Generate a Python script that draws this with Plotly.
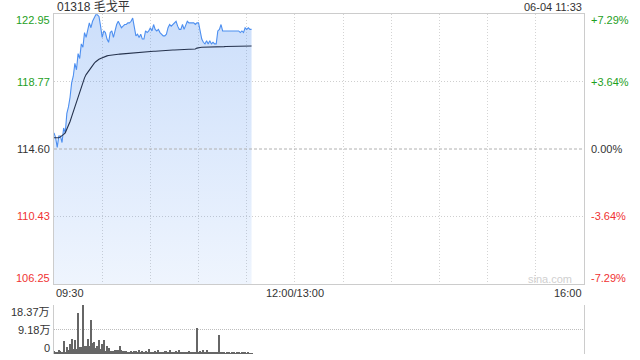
import plotly.graph_objects as go

# ---- data ----
title_text = "01318 毛戈平"
date_text = "06-04 11:33"
prev_close = 114.60
price_ticks = [122.95, 118.77, 114.60, 110.43, 106.25]
pct_ticks = ["+7.29%", "+3.64%", "0.00%", "-3.64%", "-7.29%"]
time_tick_pos = [0, 150, 330]
time_tick_text = ["09:30", "12:00/13:00", "16:00"]
vol_ticks = [18.37, 9.18, 0]
vol_tick_text = ["18.37万", "9.18万", "0"]

price = [
    115.6, 115.3, 114.7, 115.4, 115.4, 115.0, 115.9, 115.6, 116.8, 117.2,
    117.8, 118.7, 119.1, 119.9, 119.5, 120.5, 120.2, 121.1, 120.9, 121.8,
    121.5, 122.0, 122.4, 122.1, 122.5, 122.7, 122.9, 122.9, 122.8, 122.2,
    121.5, 121.9, 121.8, 121.4, 121.2, 121.8, 121.9, 121.5, 121.9, 122.3,
    122.5, 122.3, 122.1, 122.2, 122.3, 122.3, 122.4, 122.4, 122.5, 122.7,
    122.2, 121.6, 121.7, 121.5, 121.7, 121.4, 121.4, 121.9, 121.8, 121.9,
    122.1, 121.9, 122.3, 122.0, 121.9, 122.0, 121.8, 121.7, 121.6, 121.6,
    121.7, 122.1, 122.3, 122.2, 122.3, 122.4, 122.5, 122.2, 122.0, 122.0,
    122.3, 122.0, 122.3, 122.5, 122.4, 122.4, 122.4, 122.4, 122.3, 122.4,
    122.4, 121.9, 121.4, 121.2, 121.1, 121.3, 121.1, 121.3, 121.1, 121.2,
    121.1, 121.1, 121.9, 122.0, 122.3, 121.9, 121.9, 121.9, 121.9, 121.9,
    121.9, 121.9, 121.9, 121.9, 121.9, 121.9, 121.8, 121.9, 121.8, 122.1,
    122.0, 122.1, 122.0, 122.0,
]

avg_price = [
    115.30, 115.30, 115.30, 115.30, 115.35, 115.40, 115.50, 115.60, 115.80, 116.00,
    116.30, 116.60, 116.90, 117.30, 117.60, 117.90, 118.20, 118.50, 118.80, 119.00,
    119.20, 119.35, 119.50, 119.65, 119.80, 119.90, 120.00, 120.10, 120.15, 120.20,
    120.25, 120.30, 120.33, 120.36, 120.38, 120.40, 120.41, 120.42, 120.43, 120.45,
    120.46, 120.47, 120.48, 120.49, 120.50, 120.51, 120.52, 120.53, 120.54, 120.55,
    120.56, 120.57, 120.57, 120.58, 120.59, 120.60, 120.60, 120.61, 120.62, 120.63,
    120.64, 120.64, 120.65, 120.65, 120.66, 120.66, 120.67, 120.68, 120.68, 120.69,
    120.70, 120.70, 120.71, 120.71, 120.72, 120.72, 120.73, 120.73, 120.74, 120.74,
    120.75, 120.75, 120.76, 120.76, 120.77, 120.77, 120.77, 120.78, 120.78, 120.84,
    120.88, 120.88, 120.89, 120.89, 120.89, 120.90, 120.90, 120.90, 120.91, 120.91,
    120.92, 120.92, 120.92, 120.93, 120.93, 120.93, 120.93, 120.94, 120.94, 120.94,
    120.94, 120.94, 120.95, 120.95, 120.95, 120.95, 120.95, 120.96, 120.96, 120.96,
    120.96, 120.97, 120.97, 120.97,
]

volume = [  # 万 shares
    1.0, 0.5, 0.4, 1.5, 1.0, 0.8, 4.9, 0.6, 2.6, 1.6,
    3.9, 5.8, 1.8, 5.1, 2.0, 15.4, 2.7, 2.8, 18.37, 3.0,
    2.9, 5.8, 3.0, 12.7, 4.2, 4.5, 2.2, 3.0, 5.1, 1.8,
    3.9, 5.4, 1.2, 3.0, 2.4, 1.2, 1.0, 1.2, 1.5, 1.5,
    1.4, 3.0, 1.5, 1.2, 1.0, 1.2, 0.8, 0.5, 1.1, 0.9,
    1.2, 1.1, 0.8, 1.5, 0.9, 1.0, 0.6, 1.2, 0.5, 1.7,
    0.5, 0.7, 0.4, 1.1, 0.6, 1.5, 0.8, 0.9, 0.5, 1.0,
    1.1, 0.6, 1.5, 0.7, 0.9, 0.4, 1.0, 0.6, 1.5, 0.8,
    0.5, 0.9, 0.6, 0.4, 1.0, 0.7, 0.5, 0.4, 0.6, 9.6,
    0.8, 1.2, 0.5, 1.5, 0.6, 1.5, 0.8, 0.9, 0.5, 0.4,
    0.4, 0.6, 0.8, 7.1, 0.5, 0.4, 0.5, 0.3, 0.4, 0.5,
    0.3, 0.4, 0.5, 0.3, 0.6, 0.4, 0.3, 0.8, 0.4, 0.5,
    0.3, 0.4, 0.3, 0.2,
]

minutes = list(range(len(price)))

GREEN = "#1ea01e"
RED = "#f03232"
DARK = "#333333"
FONT = "Arial, Liberation Sans, Noto Sans CJK SC, sans-serif"
label_colors = [GREEN, GREEN, DARK, RED, RED]

fig = go.Figure()

# baseline for fill
fig.add_trace(go.Scatter(x=[minutes[0], minutes[-1]], y=[price_ticks[-1], price_ticks[-1]],
                         mode="lines", line=dict(width=0), hoverinfo="skip",
                         showlegend=False, xaxis="x", yaxis="y"))
fig.add_trace(go.Scatter(x=minutes, y=price, mode="lines",
                         line=dict(color="#4d8ff0", width=1.1),
                         fill="tonexty",
                         fillgradient=dict(type="vertical", start=price_ticks[-1], stop=price_ticks[0],
                                           colorscale=[[0, "rgba(74,140,240,0.09)"],
                                                       [1, "rgba(74,140,240,0.28)"]]),
                         hoverinfo="skip", showlegend=False, xaxis="x", yaxis="y"))
fig.add_trace(go.Scatter(x=minutes, y=avg_price, mode="lines",
                         line=dict(color="#25324d", width=1.1),
                         hoverinfo="skip", showlegend=False, xaxis="x", yaxis="y"))
fig.add_trace(go.Bar(x=minutes, y=volume, width=0.62,
                     marker=dict(color="#666666", line=dict(width=0)),
                     hoverinfo="skip", showlegend=False, xaxis="x2", yaxis="y2"))

XDOM = [54 / 640, 584 / 640]
fig.update_layout(
    width=640, height=360,
    margin=dict(l=0, r=0, t=0, b=0),
    paper_bgcolor="white", plot_bgcolor="white",
    font=dict(family=FONT, size=11, color=DARK),
    xaxis=dict(domain=XDOM, range=[0, 330], anchor="y",
               showgrid=True, tickvals=list(range(0, 331, 30)), gridcolor="#d4d4d4",
               griddash="1px,2px", gridwidth=1, showticklabels=False, ticks="",
               showline=True, mirror=True, linecolor="#cccccc", linewidth=1, zeroline=False),
    yaxis=dict(domain=[1 - 284 / 360, 1 - 14 / 360], range=[price_ticks[-1], price_ticks[0]],
               anchor="x", showgrid=True, tickvals=[price_ticks[1], price_ticks[3]],
               gridcolor="#cfcfcf", griddash="1px,2px", showticklabels=False, ticks="",
               showline=True, mirror=True, linecolor="#cccccc", linewidth=1, zeroline=False),
    xaxis2=dict(domain=XDOM, range=[0, 330], anchor="y2", showgrid=False,
                showticklabels=False, ticks="", showline=False, zeroline=False),
    yaxis2=dict(domain=[1 - 354 / 360, 1 - 305 / 360], range=[0, vol_ticks[0]], anchor="x2",
                showgrid=True, tickvals=vol_ticks, gridcolor="#bdbdbd", griddash="1px,1px",
                showticklabels=False, ticks="", showline=True, mirror=True,
                linecolor="#cccccc", linewidth=1, zeroline=False),
    bargap=0,
)

# prev close dashed line
fig.add_shape(type="line", xref="x", yref="y", x0=0, x1=330, y0=prev_close, y1=prev_close,
              line=dict(color="#b0b0b0", width=1, dash="3px,2px"), layer="above")

annotations = []
annotations.append(dict(text=title_text, xref="paper", yref="paper", x=55 / 640, y=1 - 7 / 360,
                        xanchor="left", yanchor="middle", showarrow=False,
                        font=dict(size=12, color=DARK)))
annotations.append(dict(text=date_text, xref="paper", yref="paper", x=584 / 640, y=1 - 7 / 360,
                        xanchor="right", yanchor="middle", showarrow=False,
                        font=dict(size=11, color=DARK)))
shifts = [-6.5, 0, 0, 0, 6]
for v, pct, c, s in zip(price_ticks, pct_ticks, label_colors, shifts):
    annotations.append(dict(text=f"{v:.2f}", xref="paper", yref="y", x=51.5 / 640, y=v,
                            yshift=s, xanchor="right", yanchor="middle", showarrow=False,
                            font=dict(size=11, color=c)))
    annotations.append(dict(text=pct, xref="paper", yref="y", x=589 / 640, y=v,
                            yshift=s, xanchor="left", yanchor="middle", showarrow=False,
                            font=dict(size=11, color=c)))
anchors = ["left", "center", "right"]
for pos, txt, a in zip(time_tick_pos, time_tick_text, anchors):
    annotations.append(dict(text=txt, xref="x", yref="paper", x=pos, y=1 - 293 / 360,
                            xanchor=a, yanchor="middle", showarrow=False,
                            font=dict(size=11, color=DARK)))
vshifts = [-6.5, 0, 6]
for v, txt, s in zip(vol_ticks, vol_tick_text, vshifts):
    annotations.append(dict(text=txt, xref="paper", yref="y2", x=51.5 / 640, y=v, yshift=s,
                            xanchor="right", yanchor="middle", showarrow=False,
                            font=dict(size=11, color=DARK)))
annotations.append(dict(text="sina.com", xref="paper", yref="paper", x=574 / 640, y=1 - 279 / 360,
                        xanchor="right", yanchor="middle", showarrow=False,
                        font=dict(size=11, color="#d0d0d0")))
fig.update_layout(annotations=annotations)

fig.write_html("out.html")
